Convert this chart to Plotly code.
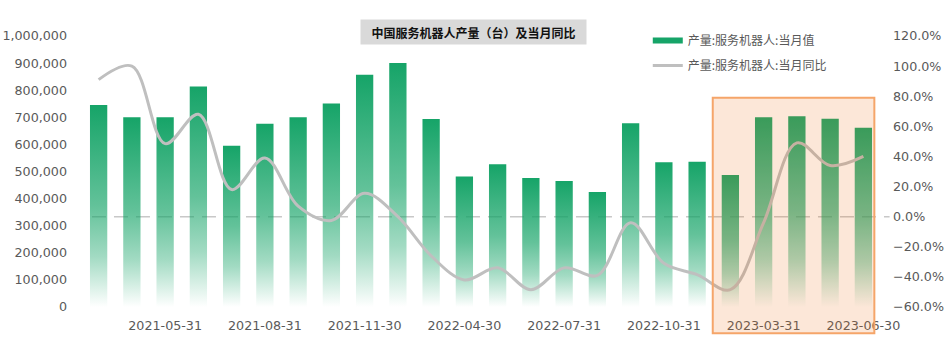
import plotly.graph_objects as go

# ---------------- data ----------------
dates = ["2021-03-31", "2021-04-30", "2021-05-31", "2021-06-30", "2021-07-31", "2021-08-31",
         "2021-09-30", "2021-10-31", "2021-11-30", "2021-12-31", "2022-03-31", "2022-04-30",
         "2022-05-31", "2022-06-30", "2022-07-31", "2022-08-31", "2022-09-30", "2022-10-31",
         "2022-11-30", "2022-12-31", "2023-03-31", "2023-04-30", "2023-05-31", "2023-06-30"]
production = [745000, 700000, 700000, 814000, 595000, 676000, 700000, 751000, 857000, 900000,
              694000, 482000, 527000, 476000, 465000, 424000, 678000, 534000, 536000, 487000,
              700000, 704000, 695000, 661000]
yoy_pct = [91, 100, 48.5, 68, 18, 39, 7, -2.5, 15.5, 0, -26, -42, -34, -48.5, -34, -39, -4,
           -31, -38.5, -48.5, -4, 49, 34, 40]
tick_every = 3
left_ticks = list(range(0, 1000001, 100000))
right_ticks = [v / 100 for v in range(-60, 121, 20)]
title_text = "中国服务机器人产量（台）及当月同比"
name_bar = "产量:服务机器人:当月值"
name_line = "产量:服务机器人:当月同比"
highlight_from = 19  # first highlighted period index

# ---------------- styles ----------------
GREEN = "22,164,104"
TICK_FONT = dict(family="DejaVu Sans", size=12.7, color="#595959")
bar_half = 0.26

fig = go.Figure()

idx = list(range(len(production)))
grad = [[0.0, f"rgba({GREEN},0.0)"], [0.25, f"rgba({GREEN},0.4)"],
        [0.5, f"rgba({GREEN},0.67)"], [1.0, f"rgba({GREEN},1.0)"]]
for i, v in zip(idx, production):
    fig.add_trace(go.Scatter(
        x=[i - bar_half, i - bar_half, i + bar_half, i + bar_half, i - bar_half],
        y=[0, v, v, 0, 0],
        mode="lines", line=dict(width=0), fill="toself",
        fillgradient=dict(type="vertical", colorscale=grad),
        showlegend=False, hoverinfo="skip"))

fig.add_trace(go.Scatter(
    x=idx, y=[p / 100 for p in yoy_pct], yaxis="y2", mode="lines",
    line=dict(color="#bfbfbf", width=3, shape="spline", smoothing=1.0),
    showlegend=False, name=name_line))

# legend-only entries
fig.add_trace(go.Scatter(x=[None], y=[None], mode="lines", name=name_bar,
                         line=dict(color=f"rgb({GREEN})", width=6), legendgroup="a"))
fig.add_trace(go.Scatter(x=[None], y=[None], mode="lines", name=name_line,
                         line=dict(color="#bfbfbf", width=3), legendgroup="b"))

# zero dashed reference line (right axis 0%)
fig.add_shape(type="line", xref="paper", yref="y2", x0=0.0125, x1=1.012, y0=0, y1=0,
              line=dict(color="#c8c8c8", width=1.5, dash="14px,8px"), layer="below")

# highlighted recent period
fig.add_shape(type="rect", xref="x", yref="paper",
              x0=highlight_from - 0.53, x1=len(production) - 1 + 0.33,
              y0=-0.097, y1=0.772,
              fillcolor="rgba(237,110,25,0.17)",
              line=dict(color="rgb(245,165,105)", width=2), layer="above")

fig.add_annotation(xref="paper", yref="paper", x=0.491, y=1.063, text=f"<b>{title_text}</b>",
                   showarrow=False, bgcolor="#d9d9d9", width=223, height=22,
                   font=dict(family="Noto Sans CJK SC", size=12, color="#111111"))

fig.update_layout(
    width=950, height=353,
    margin=dict(l=82, r=70, t=36, b=46, autoexpand=False),
    paper_bgcolor="white", plot_bgcolor="rgba(0,0,0,0)",
    showlegend=True,
    legend=dict(x=0.709, y=1.037, xanchor="left", yanchor="top",
                traceorder="grouped", tracegroupgap=6,
                bgcolor="rgba(0,0,0,0)",
                font=dict(family="Noto Sans CJK SC", size=12, color="#595959")),
    xaxis=dict(range=[-0.5, len(production) - 0.5], showgrid=False, zeroline=False,
               showline=False, ticks="", automargin=False,
               tickvals=[i for i in idx if i % tick_every == tick_every - 1],
               ticktext=[dates[i] for i in idx if i % tick_every == tick_every - 1],
               tickfont=TICK_FONT, ticklabelstandoff=9),
    yaxis=dict(range=[0, 1000000], tickvals=left_ticks, tickformat=",d",
               showgrid=False, zeroline=False, showline=False, ticks="", automargin=False,
               tickfont=TICK_FONT, ticklabelstandoff=14),
    yaxis2=dict(range=[-0.6, 1.2], tickvals=right_ticks, tickformat=".1%",
                overlaying="y", side="right", showgrid=False, zeroline=False,
                showline=False, ticks="", automargin=False,
                tickfont=TICK_FONT, ticklabelstandoff=12),
)

fig.write_html("out.html")
